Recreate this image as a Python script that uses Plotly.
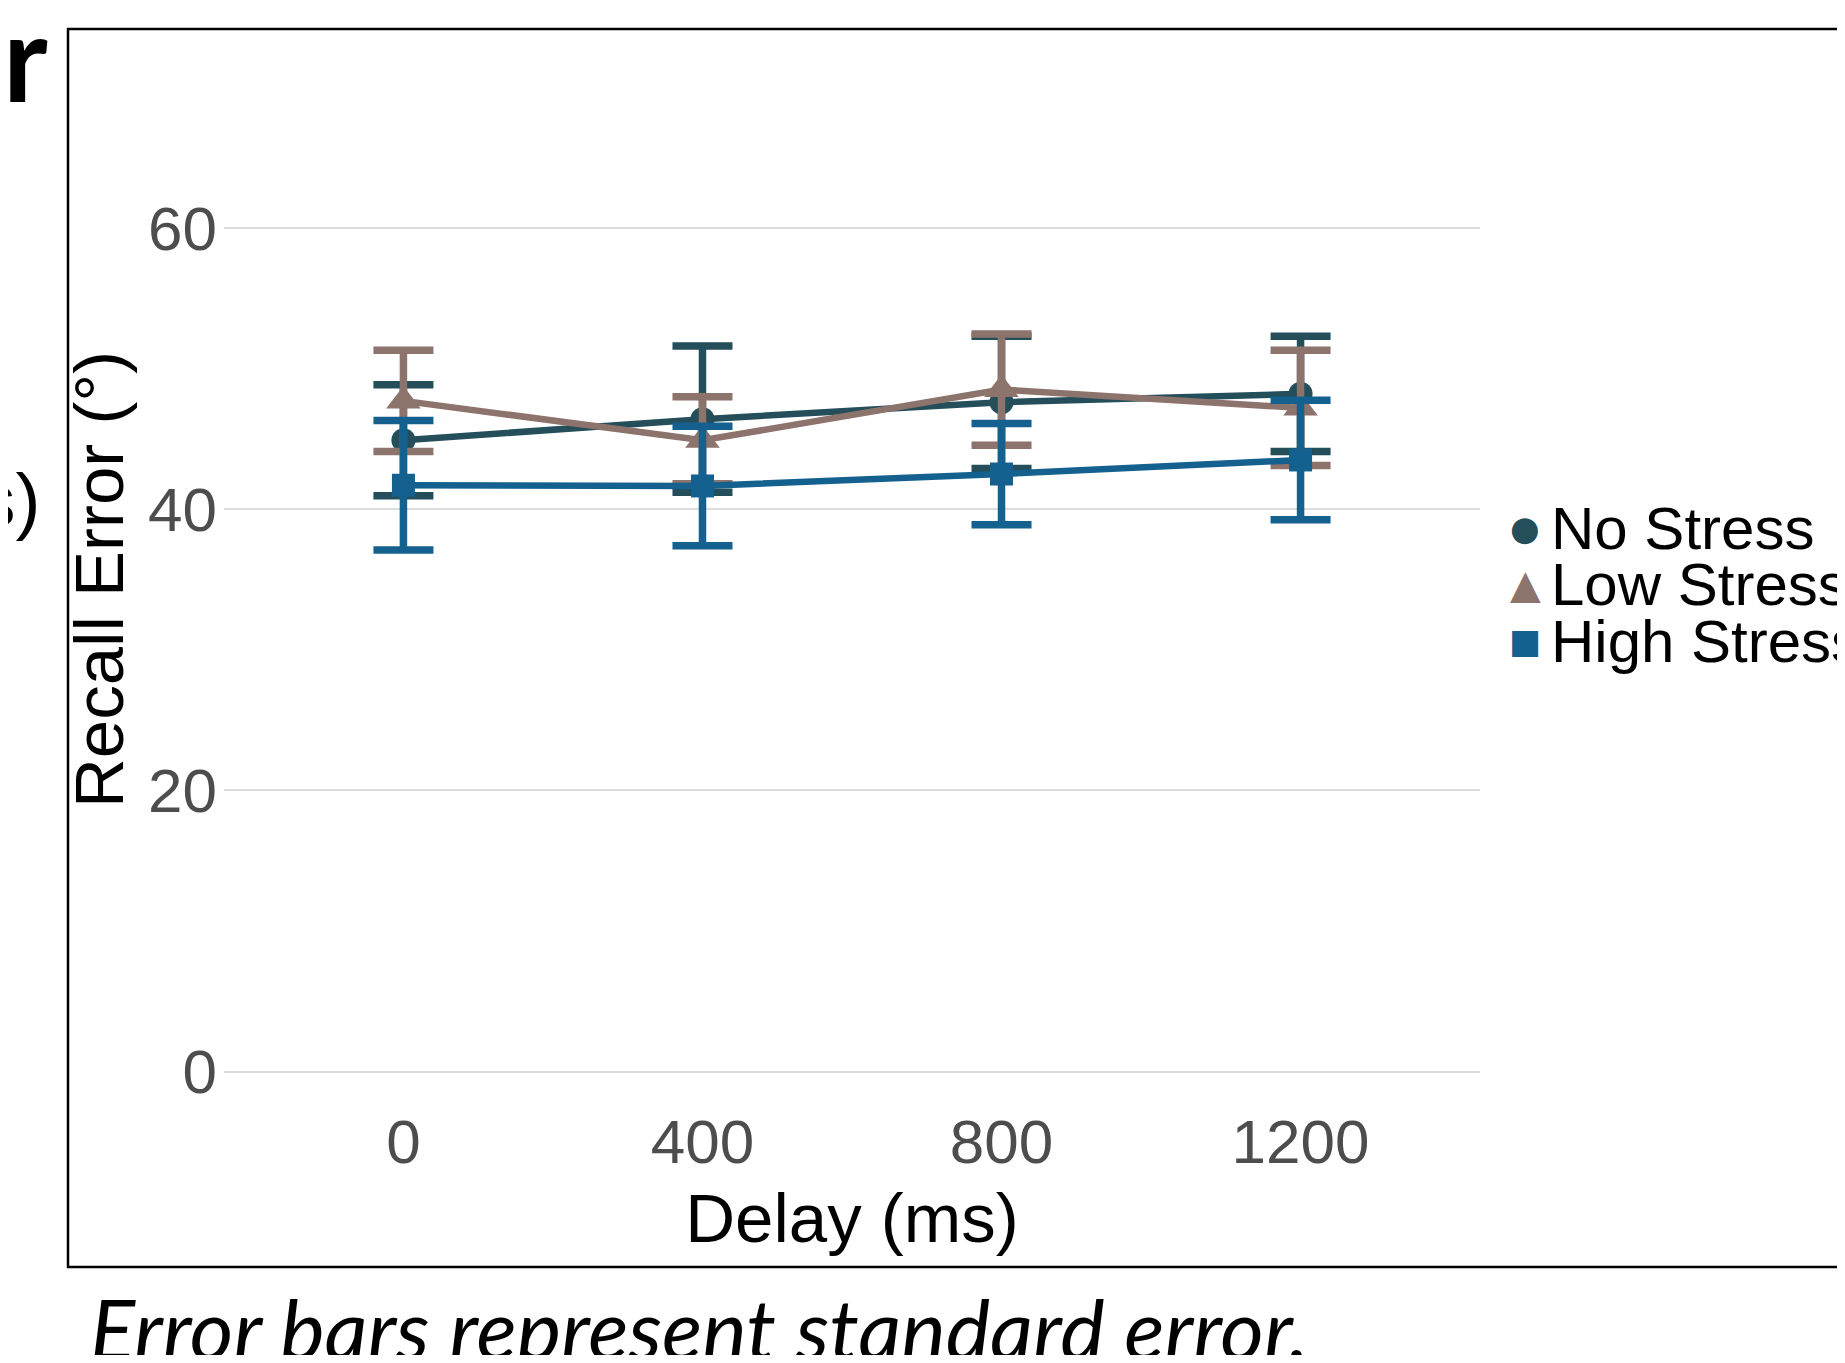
import plotly.graph_objects as go

# ---------------- data ----------------
delays = [0, 400, 800, 1200]
tick_labels = ["0", "400", "800", "1200"]

series_names = ["No Stress", "Low Stress", "High Stress"]
no_stress_mean = [44.9, 46.4, 47.6, 48.2]
no_stress_se = [3.95, 5.2, 4.7, 4.1]
low_stress_mean = [47.7, 44.9, 48.5, 47.2]
low_stress_se = [3.6, 3.1, 3.95, 4.1]
high_stress_mean = [41.7, 41.65, 42.5, 43.5]
high_stress_se = [4.6, 4.25, 3.6, 4.25]

colors = ["#234E5A", "#8C736B", "#14608E"]
symbols = ["circle", "triangle-up", "square"]
msizes = [24, 30, 23]
glyphs = ["●", "▲", "■"]
glyph_sizes = [34, 40, 34]

# page body has an 8px margin; figure is sized to fit the window exactly
PAGE = 8
W, H = 1845 - 2 * PAGE, 1363 - 2 * PAGE
# plot area in screen pixels
SX0, SX1, SY0, SY1 = 224, 1480, 38, 1121
L, T = SX0 - PAGE, SY0 - PAGE
R, B = W - (SX1 - PAGE), H - (SY1 - PAGE)


def px(x):
    return (x - SX0) / (SX1 - SX0)


def py(y):
    return (SY1 - y) / (SY1 - SY0)


fig = go.Figure()
for name, m, se, c, s, ms in zip(
    series_names,
    [no_stress_mean, low_stress_mean, high_stress_mean],
    [no_stress_se, low_stress_se, high_stress_se],
    colors, symbols, msizes,
):
    fig.add_trace(go.Scatter(
        x=delays, y=m, name=name, mode="lines+markers",
        line=dict(color=c, width=6.5),
        marker=dict(symbol=s, size=ms, color=c),
        error_y=dict(type="data", array=se, visible=True, color=c,
                     thickness=7.5, width=30),
        showlegend=False,
    ))

annotations = []
# manual legend
legend_y = [528, 584, 641]
for name, c, g, gs, yy in zip(series_names, colors, glyphs, glyph_sizes, legend_y):
    annotations.append(dict(
        xref="paper", yref="paper", x=px(1525), y=py(yy), text=g,
        showarrow=False, xanchor="center", yanchor="middle",
        font=dict(family="DejaVu Sans", size=gs, color=c)))
    annotations.append(dict(
        xref="paper", yref="paper", x=px(1549), y=py(yy), text=name,
        showarrow=False, xanchor="left", yanchor="middle",
        font=dict(family="Liberation Sans", size=60, color="black")))

# caption and cropped slide fragments
annotations.append(dict(
    xref="paper", yref="paper", x=px(88), y=py(1327),
    text="<i>Error bars represent standard error.</i>",
    showarrow=False, xanchor="left", yanchor="middle",
    font=dict(family="Lato", size=84, color="black")))
annotations.append(dict(
    xref="paper", yref="paper", x=px(50), y=py(56),
    text="<b>r</b>", showarrow=False, xanchor="right", yanchor="middle",
    font=dict(family="Lato", size=120, color="black")))
annotations.append(dict(
    xref="paper", yref="paper", x=px(42), y=py(500),
    text="s)", showarrow=False, xanchor="right", yanchor="middle",
    font=dict(family="Liberation Sans", size=75, color="black")))

fig.update_layout(
    width=W, height=H,
    margin=dict(l=L, r=R, t=T, b=B, autoexpand=False),
    paper_bgcolor="white", plot_bgcolor="white",
    showlegend=False,
    annotations=annotations,
    shapes=[dict(type="rect", xref="paper", yref="paper",
                 x0=px(68), x1=px(1900), y0=py(1267), y1=py(29),
                 line=dict(color="black", width=2.5), layer="below")],
    xaxis=dict(
        range=[-240, 1440], tickvals=delays, ticktext=tick_labels,
        showgrid=False, zeroline=False, showline=False, ticks="",
        ticklabelstandoff=-21,
        tickfont=dict(family="Liberation Sans", size=62, color="#4D4D4D"),
        title=dict(text="Delay (ms)", standoff=18,
                   font=dict(family="Liberation Sans", size=69, color="black")),
    ),
    yaxis=dict(
        range=[-3.5, 73.5], tickvals=[0, 20, 40, 60],
        showgrid=True, gridcolor="#DCDCDC", gridwidth=2,
        zeroline=False, showline=False, ticks="",
        ticklabelstandoff=6,
        tickfont=dict(family="Liberation Sans", size=62, color="#4D4D4D"),
        title=dict(text="Recall Error (°)", standoff=1,
                   font=dict(family="Liberation Sans", size=69, color="black")),
    ),
)

fig.write_html("out.html")
